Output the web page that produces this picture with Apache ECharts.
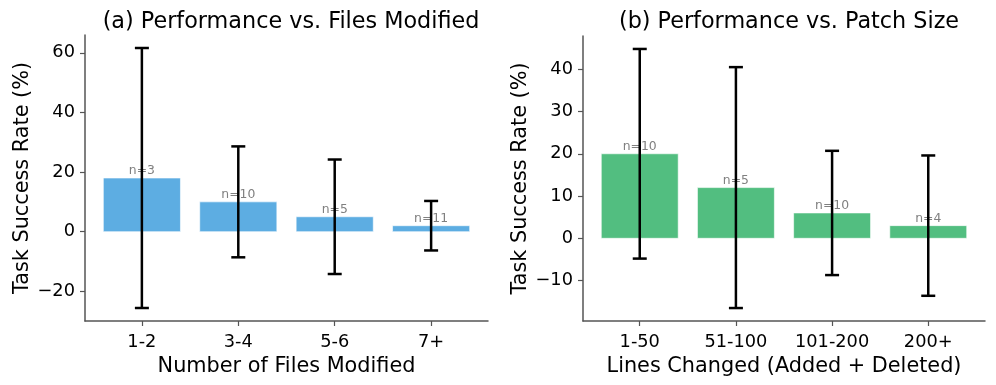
<!DOCTYPE html>
<html><head><meta charset="utf-8">
<script src="https://cdn.jsdelivr.net/npm/echarts@6/dist/echarts.min.js"></script>
<style>html,body{margin:0;padding:0;background:#fff}#c{width:996px;height:385px}</style>
</head><body><div id="c"></div>
<script>
// Panel (a)
const filesCats = ['1-2', '3-4', '5-6', '7+'];
const filesRate = [18, 10, 5, 2];
const filesErr = [43.6, 18.6, 19.2, 8.3];
const filesN = [3, 10, 5, 11];
const filesTicks = [-20, 0, 20, 40, 60];
// Panel (b)
const patchCats = ['1-50', '51-100', '101-200', '200+'];
const patchRate = [20, 12, 6, 3];
const patchErr = [24.8, 28.5, 14.7, 16.6];
const patchN = [10, 5, 10, 4];
const patchTicks = [-10, 0, 10, 20, 30, 40];

const FONT = 'DejaVu Sans';
const SPINE = '#555';

function rows(rate, err, n) { return rate.map((v, i) => [i, v, err[i], n[i]]); }
function limits(rate, err) {
  let lo = Math.min(0, ...rate.map((v, i) => v - err[i]));
  let hi = Math.max(...rate.map((v, i) => v + err[i]));
  const m = (hi - lo) * 0.05;
  return [lo - m, hi + m];
}

function makeRender(color) {
  return function (params, api) {
    const x = api.value(0), v = api.value(1), e = api.value(2), n = api.value(3);
    const p0 = api.coord([x, 0]);
    const p1 = api.coord([x, v]);
    const bw = api.size([0.8, 0])[0];
    const pl = api.coord([x, v - e]);
    const ph = api.coord([x, v + e]);
    const cap = 7;
    const lineStyle = { stroke: '#000', lineWidth: 2.5 };
    return {
      type: 'group',
      children: [
        { type: 'rect', shape: { x: p0[0] - bw / 2, y: Math.min(p0[1], p1[1]), width: bw, height: Math.abs(p0[1] - p1[1]) },
          style: { fill: color, stroke: 'rgba(255,255,255,0.6)', lineWidth: 1 } },
        { type: 'text', x: p1[0], y: p1[1] - 1,
          style: { text: 'n=' + n, fill: '#808080', font: '12.4px "' + FONT + '"', textAlign: 'center', textVerticalAlign: 'bottom' } },
        { type: 'line', shape: { x1: pl[0], y1: pl[1], x2: ph[0], y2: ph[1] }, style: lineStyle },
        { type: 'line', shape: { x1: pl[0] - cap, y1: pl[1], x2: pl[0] + cap, y2: pl[1] }, style: lineStyle },
        { type: 'line', shape: { x1: ph[0] - cap, y1: ph[1], x2: ph[0] + cap, y2: ph[1] }, style: lineStyle }
      ]
    };
  };
}

function xAxisCfg(gi, cats, name) {
  return {
    gridIndex: gi, type: 'value', min: -0.59, max: 3.59,
    name: name, nameLocation: 'middle', nameGap: 34,
    nameTextStyle: { fontFamily: FONT, fontSize: 20.8, color: '#000' },
    axisLine: { show: true, onZero: false, lineStyle: { color: SPINE, width: 1.5 } },
    axisTick: { show: true, length: 5, lineStyle: { color: SPINE, width: 1.2 }, customValues: [0, 1, 2, 3] },
    axisLabel: { show: true, customValues: [0, 1, 2, 3], formatter: v => cats[Math.round(v)], fontFamily: FONT, fontSize: 17.8, color: '#000', margin: 12 },
    splitLine: { show: false }
  };
}
function yAxisCfg(gi, lim, ticks) {
  return {
    gridIndex: gi, type: 'value', min: lim[0], max: lim[1],
    name: 'Task Success Rate (%)', nameLocation: 'middle', nameGap: 52,
    nameTextStyle: { fontFamily: FONT, fontSize: 20.8, color: '#000' },
    axisLine: { show: true, onZero: false, lineStyle: { color: SPINE, width: 1.5 } },
    axisTick: { show: true, length: 5, lineStyle: { color: SPINE, width: 1.2 }, customValues: ticks },
    axisLabel: { show: true, customValues: ticks, formatter: v => (v < 0 ? '\u2212' + Math.abs(v) : String(v)), fontFamily: FONT, fontSize: 17.8, color: '#000', margin: 10 },
    splitLine: { show: false }
  };
}

const limA = limits(filesRate, filesErr);
const limB = limits(patchRate, patchErr);

const chart = echarts.init(document.getElementById('c'), null, { renderer: 'canvas' });
chart.setOption({
  backgroundColor: '#fff',
  animation: false,
  title: [
    { text: '(a) Performance vs. Files Modified', left: 286, top: 6, textAlign: 'center',
      textStyle: { fontFamily: FONT, fontSize: 22.3, fontWeight: 'normal', color: '#000' } },
    { text: '(b) Performance vs. Patch Size', left: 784, top: 6, textAlign: 'center',
      textStyle: { fontFamily: FONT, fontSize: 22.3, fontWeight: 'normal', color: '#000' } }
  ],
  grid: [
    { left: 85, top: 35, width: 403, height: 286 },
    { left: 583, top: 36, width: 402, height: 285 }
  ],
  xAxis: [xAxisCfg(0, filesCats, 'Number of Files Modified'), xAxisCfg(1, patchCats, 'Lines Changed (Added + Deleted)')],
  yAxis: [yAxisCfg(0, limA, filesTicks), yAxisCfg(1, limB, patchTicks)],
  series: [
    { type: 'custom', xAxisIndex: 0, yAxisIndex: 0, data: rows(filesRate, filesErr, filesN), renderItem: makeRender('#5DADE2'), clip: false },
    { type: 'custom', xAxisIndex: 1, yAxisIndex: 1, data: rows(patchRate, patchErr, patchN), renderItem: makeRender('#52BE80'), clip: false }
  ]
});
</script></body></html>
